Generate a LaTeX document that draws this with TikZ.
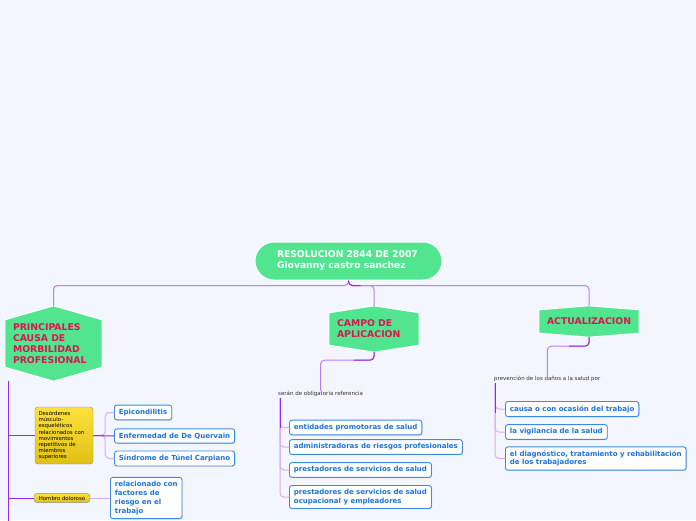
\documentclass[tikz,border=0pt]{standalone}
\usepackage{fontspec}
\setmainfont{DejaVu Sans}
\usetikzlibrary{positioning,backgrounds,shadows}

\definecolor{mapbg}{RGB}{243,246,254}
\definecolor{topicgreen}{RGB}{82,229,143}
\definecolor{topicred}{RGB}{220,20,80}
\definecolor{leafblue}{RGB}{30,115,215}
\definecolor{leafline}{RGB}{60,140,230}
\definecolor{linkdark}{RGB}{150,40,230}
\definecolor{linkmid}{RGB}{190,125,245}
\definecolor{linklight}{RGB}{218,172,248}
\definecolor{noteyellow}{RGB}{252,226,60}
\definecolor{noteyellowdark}{RGB}{226,192,20}

\tikzset{
	rootbox/.style={rectangle, rounded corners=19pt, fill=topicgreen, draw=white, line width=1pt,
		minimum width=187pt, minimum height=38pt, text width=143pt, inner xsep=22pt, align=left,
		font=\bfseries\fontsize{9.2}{11}\selectfont, text=white},
	topic/.style={inner xsep=8pt, inner ysep=0pt, align=left, font=\bfseries\fontsize{9.3}{11}\selectfont, text=topicred},
	leaf/.style={rectangle, rounded corners=2.5pt, draw=leafline, line width=0.9pt, fill=white,
		text=leafblue, font=\bfseries\fontsize{7}{8.2}\selectfont, inner xsep=4.5pt, inner ysep=4pt,
		align=left, drop shadow={shadow xshift=0.7pt, shadow yshift=-0.7pt, opacity=0.25}},
	note/.style={rectangle, rounded corners=3pt, draw=black!45, top color=noteyellow, bottom color=noteyellowdark,
		font=\fontsize{5.4}{6.2}\selectfont, align=left, inner xsep=3.5pt, inner ysep=2.5pt},
	linktext/.style={inner sep=0pt, font=\fontsize{5.5}{6}\selectfont, text=black!80},
	link/.style={draw=linkdark, line width=1pt, rounded corners=4pt},
	midlink/.style={draw=linkmid, line width=1pt, rounded corners=4pt},
	sublink/.style={draw=linklight, line width=1pt, rounded corners=4pt},
	hexa/.style={fill=topicgreen, draw=white, line width=1pt},
}

% hexagon behind a topic node: #1 node, #2 depth of the peaks
\newcommand{\hexaround}[2]{
	\path[hexa] (#1.north) -- ([yshift=-#2]#1.north east) -- ([yshift=#2]#1.south east)
		-- (#1.south) -- ([yshift=#2]#1.south west) -- ([yshift=-#2]#1.north west) -- cycle;
}

\begin{document}
\begin{tikzpicture}[x=1pt, y=-1pt]
	\clip (0,0) rectangle (696,520);

	% root
	\node[rootbox] (root) at (348.5,261) {RESOLUCION 2844 DE 2007\\Giovanny castro sanchez};

	% main topics
	\node[topic, minimum width=97pt, minimum height=75pt, text width=81pt] (causa) at (53.5,343.5)
		{PRINCIPALES\\CAUSA DE\\MORBILIDAD\\PROFESIONAL};
	\node[topic, minimum width=90pt, minimum height=46pt, text width=74pt] (campo) at (374,329)
		{CAMPO DE\\APLICACION};
	\node[topic, minimum width=100pt, minimum height=31pt, text width=84pt, align=center] (actual) at (589,321.5)
		{ACTUALIZACION};

	% left branch
	\node[note, text width=51pt, minimum height=57pt] (desord) at (64,435.5)
		{Desórdenes\\músculo-\\esqueléticos\\relacionados con\\movimientos\\repetitivos de\\miembros\\superiores};
	\node[note, minimum width=56pt] (hombro) at (62,498) {Hombro doloroso};
	\node[leaf, anchor=west] (epic) at (114,412.5) {Epicondilitis};
	\node[leaf, anchor=west] (querv) at (114,436) {Enfermedad de De Quervain};
	\node[leaf, anchor=west] (tunel) at (114,458.5) {Síndrome de Túnel Carpiano};
	\node[leaf, anchor=west, font=\bfseries\fontsize{7}{8.8}\selectfont] (relac) at (110,498)
		{relacionado con\\factores de\\riesgo en el\\trabajo};

	% middle branch
	\node[linktext, anchor=west] (oblig) at (278,394) {serán de obligatoria referencia};
	\node[leaf, anchor=west] (eps) at (289,427.5) {entidades promotoras de salud};
	\node[leaf, anchor=west] (arp) at (289,447) {administradoras de riesgos profesionales};
	\node[leaf, anchor=west] (ips) at (289,470) {prestadores de servicios de salud};
	\node[leaf, anchor=west] (ocup) at (289,497) {prestadores de servicios de salud\\ocupacional y empleadores};

	% right branch
	\node[linktext, anchor=west] (prev) at (494,379) {prevención de los daños a la salud por};
	\node[leaf, anchor=west] (ocas) at (505,409) {causa o con ocasión del trabajo};
	\node[leaf, anchor=west] (vigil) at (505,432) {la vigilancia de la salud};
	\node[leaf, anchor=west] (diag) at (505,458.5) {el diagnóstico, tratamiento y rehabilitación\\de los trabajadores};

	\coordinate (cstem) at ([xshift=4pt]causa.south west);
	\coordinate (ostem) at ([xshift=2pt,yshift=-4pt]oblig.west);
	\coordinate (pstem) at ([xshift=1pt,yshift=-4pt]prev.west);

	\begin{scope}[on background layer]
		\fill[mapbg] (0,0) rectangle (696,520);
		\hexaround{causa}{14pt}
		\hexaround{campo}{7pt}
		\hexaround{actual}{4pt}
	\end{scope}

	% connectors
	\draw[midlink] (root.south) -- ++(0,5) -| (causa.north);
	\draw[midlink] (root.south) -- ++(0,5) -| (campo.north);
	\draw[midlink] (root.south) -- ++(0,5) -| (actual.north);
	\draw[link] (root.south) -- ++(0,5) -- ++(12,0);

	\draw[link] (cstem) -- ++(0,150);
	\draw[link] (cstem |- desord) -- (desord.west);
	\draw[link] (cstem |- hombro) -- (hombro.west);
	\draw[sublink] (desord.east) -- ++(12,0) |- (epic.west);
	\draw[sublink] (desord.east) -- ++(12,0) |- (tunel.west);
	\draw[link] (desord.east) -- (querv.west);
	\draw[sublink] (hombro.east) -- (relac.west);

	\draw[midlink] (campo.south) -- ++(0,8) -| (oblig.north);
	\draw[link] (campo.south) -- ++(0,8) -- ++(-20,0);
	\foreach \n in {eps,arp,ips,ocup}
		\draw[sublink] (ostem) |- (\n.west);
	\draw[link] (ostem) -- ++(0,30);

	\draw[midlink] (actual.south) -- ++(0,9) -| (prev.north);
	\draw[link] (actual.south) -- ++(0,9) -- ++(-20,0);
	\foreach \n in {ocas,vigil,diag}
		\draw[sublink] (pstem) |- (\n.west);
	\draw[link] (pstem) -- ++(0,30);
\end{tikzpicture}
\end{document}
